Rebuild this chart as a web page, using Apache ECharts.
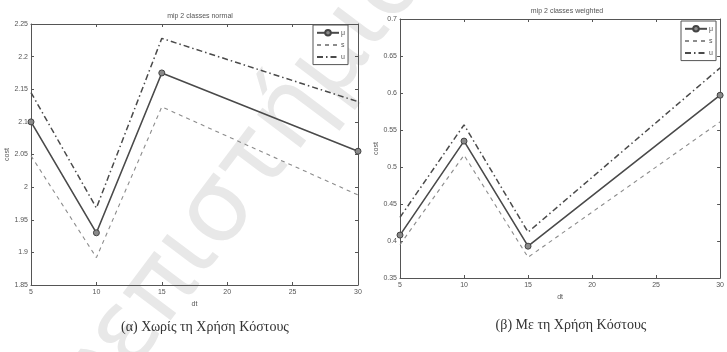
<!DOCTYPE html>
<html>
<head>
<meta charset="utf-8">
<script src="https://cdn.jsdelivr.net/npm/echarts@6/dist/echarts.min.js"></script>
<style>
  html, body { margin: 0; padding: 0; background: #fff; }
  #chart { width: 727px; height: 352px; }
</style>
</head>
<body>
<div id="chart"></div>
<script>
// Time step values on the x axis
const dt = [5, 10, 15, 30];

// Cost without weighting: mean and the lower / upper band
const normalMu = [2.1, 1.93, 2.175, 2.055];
const normalLow = [2.048, 1.892, 2.123, 1.988];
const normalUp = [2.145, 1.968, 2.228, 2.131];

// Cost with weighting: mean and the lower / upper band
const weightedMu = [0.408, 0.535, 0.393, 0.597];
const weightedLow = [0.395, 0.516, 0.378, 0.561];
const weightedUp = [0.432, 0.557, 0.412, 0.634];

const seriesNames = ['μ', 's', 'u'];
const plotTitles = ['mip 2 classes normal', 'mip 2 classes weighted'];
const captions = ['(α) Χωρίς τη Χρήση Κόστους', '(β) Με τη Χρήση Κόστους'];

const pairs = (ys) => dt.map((x, i) => [x, ys[i]]);

const axisColor = '#555';
const labelStyle = { fontSize: 7, color: '#555', fontFamily: 'Liberation Sans' };
const hidden = 'rgba(0,0,0,0)';

function xAxes(gridIndex) {
  return [
    {
      gridIndex, type: 'value', min: 5, max: 30, interval: 5, position: 'bottom',
      name: 'dt', nameLocation: 'middle', nameGap: 13,
      nameTextStyle: { fontSize: 7, color: '#555' },
      axisLine: { lineStyle: { color: axisColor, width: 1 } },
      axisTick: { inside: true, length: 3, lineStyle: { color: axisColor } },
      axisLabel: Object.assign({ margin: 4 }, labelStyle),
      splitLine: { show: false }
    },
    {
      gridIndex, type: 'value', min: 5, max: 30, interval: 5, position: 'top',
      axisLine: { lineStyle: { color: axisColor, width: 1 } },
      axisTick: { inside: true, length: 3, lineStyle: { color: axisColor } },
      axisLabel: { show: false },
      splitLine: { show: false }
    }
  ];
}

function yAxes(gridIndex, min, max) {
  return [
    {
      gridIndex, type: 'value', min, max, interval: 0.05, position: 'left',
      name: 'cost', nameLocation: 'middle', nameGap: 20, nameRotate: 90,
      nameTextStyle: { fontSize: 7, color: '#555' },
      axisLine: { show: true, lineStyle: { color: axisColor, width: 1 } },
      axisTick: { show: true, inside: true, length: 3, lineStyle: { color: axisColor } },
      axisLabel: Object.assign({ margin: 3 }, labelStyle),
      splitLine: { show: false }
    },
    {
      gridIndex, type: 'value', min, max, interval: 0.05, position: 'right',
      axisLine: { show: true, lineStyle: { color: axisColor, width: 1 } },
      axisTick: { show: true, inside: true, length: 3, lineStyle: { color: axisColor } },
      axisLabel: { show: false },
      splitLine: { show: false }
    }
  ];
}

function bandSeries(gridIndex, mu, low, up) {
  const xi = gridIndex * 2, yi = gridIndex * 2;
  return [
    {
      name: seriesNames[0], type: 'line', xAxisIndex: xi, yAxisIndex: yi,
      data: pairs(mu), symbol: 'circle', symbolSize: 6,
      lineStyle: { color: '#4a4a4a', width: 1.6, type: 'solid' },
      itemStyle: { color: '#8a8a8a', borderColor: '#444', borderWidth: 1 },
      z: 4
    },
    {
      name: seriesNames[1], type: 'line', xAxisIndex: xi, yAxisIndex: yi,
      data: pairs(low), symbol: 'none',
      lineStyle: { color: '#8c8c8c', width: 1.1, type: [4, 4] },
      itemStyle: { color: hidden, borderWidth: 0 },
      z: 3
    },
    {
      name: seriesNames[2], type: 'line', xAxisIndex: xi, yAxisIndex: yi,
      data: pairs(up), symbol: 'none',
      lineStyle: { color: '#4a4a4a', width: 1.5, type: [6, 3, 1.5, 3] },
      itemStyle: { color: hidden, borderWidth: 0 },
      z: 3
    }
  ];
}

function legendBox(left, top) {
  return {
    orient: 'vertical', left, top,
    data: seriesNames,
    itemWidth: 22, itemHeight: 7, itemGap: 5,
    padding: [4, 3, 4, 3],
    borderColor: '#555', borderWidth: 1, backgroundColor: '#fff',
    textStyle: { fontSize: 7, color: '#555', padding: [0, 0, 0, -3] },
    selectedMode: false
  };
}

const chart = echarts.init(document.getElementById('chart'), null, { renderer: 'canvas' });

chart.setOption({
  backgroundColor: '#fff',
  animation: false,
  title: [
    { text: plotTitles[0], left: 195, top: 8, textAlign: 'center',
      textStyle: { fontSize: 7, fontWeight: 'normal', color: '#555', fontFamily: 'Liberation Sans' } },
    { text: plotTitles[1], left: 562, top: 3, textAlign: 'center',
      textStyle: { fontSize: 7, fontWeight: 'normal', color: '#555', fontFamily: 'Liberation Sans' } },
    { text: captions[0], left: 200, top: 315, textAlign: 'center',
      textStyle: { fontSize: 14, fontWeight: 'normal', color: '#333', fontFamily: 'Liberation Serif' } },
    { text: captions[1], left: 566, top: 313, textAlign: 'center',
      textStyle: { fontSize: 14, fontWeight: 'normal', color: '#333', fontFamily: 'Liberation Serif' } }
  ],
  legend: [legendBox(313, 25), legendBox(681, 21)],
  grid: [
    { left: 31, top: 24, width: 327, height: 261 },
    { left: 400, top: 19, width: 326, height: 259 }
  ],
  xAxis: xAxes(0).concat(xAxes(1)),
  yAxis: yAxes(0, 1.85, 2.25).concat(yAxes(1, 0.35, 0.7)),
  series: bandSeries(0, normalMu, normalLow, normalUp)
    .concat(bandSeries(1, weightedMu, weightedLow, weightedUp)),
  graphic: [
    {
      type: 'text', x: 408, y: -38, rotation: 53 * Math.PI / 180, silent: true, z: -1,
      style: {
        text: 'Πανεπιστήμιο', align: 'right', verticalAlign: 'middle',
        font: '100px "DejaVu Sans"', fill: '#e8e8e8'
      }
    }
  ]
});
</script>
</body>
</html>
